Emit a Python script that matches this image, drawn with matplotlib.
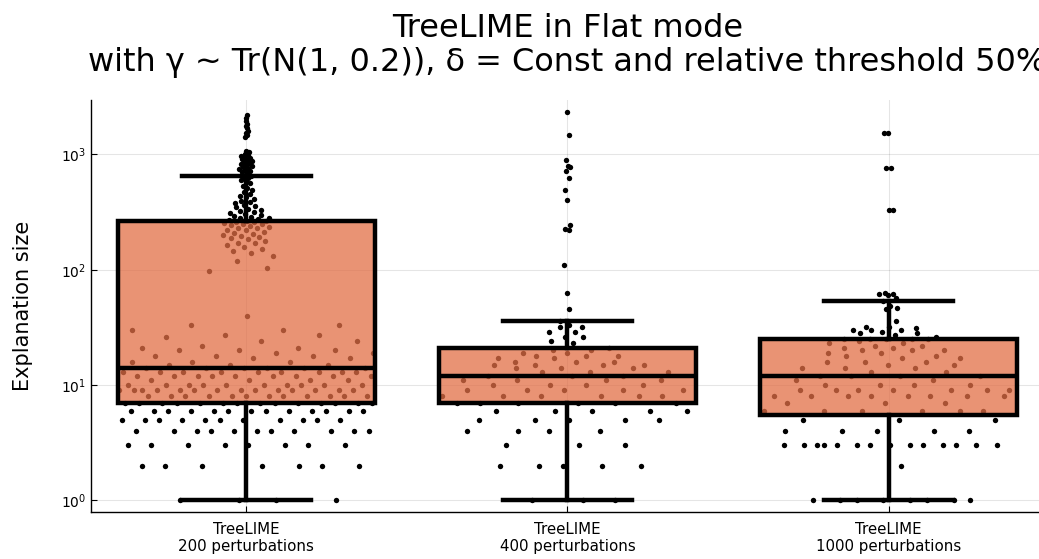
import numpy as np
import matplotlib.pyplot as plt
from matplotlib.ticker import LogLocator, NullLocator

labels = ['TreeLIME\n200 perturbations',
          'TreeLIME\n400 perturbations',
          'TreeLIME\n1000 perturbations']

# explanation sizes: small values as (value, count), larger ones listed one by one
vals_200 = [1, 2, 3, 4, 5, 6, 7, 8, 9, 10, 11, 12, 13, 14,
            15, 16, 17, 18, 19, 20, 21, 22, 24, 26, 27, 30, 33]
cnt_200 = [4, 7, 8, 11, 11, 13, 14, 12, 14, 10, 4, 9, 9, 6,
           3, 3, 2, 3, 2, 3, 2, 1, 2, 1, 2, 2, 2]
tail_200 = [40, 97,
            104, 118, 131, 140, 146, 152, 158, 163, 169, 171, 178, 184, 187, 193, 198,
            201, 206, 210, 214, 219, 223, 228, 231, 236, 240, 244, 247, 251, 254, 257,
            260, 263, 265,
            270, 274, 279, 283, 288, 292, 298, 305, 309, 316, 322, 330, 338, 347, 355,
            362, 376, 388, 395, 410, 428, 437, 452, 471, 489, 512, 530, 561, 585, 598,
            622, 640, 650,
            690, 705, 712, 730, 745, 760, 772, 790, 805, 820, 840, 855, 870, 890, 905,
            925, 940, 960, 985, 1010, 1040, 1080,
            1410, 1460, 1530, 1610, 1680, 1760, 1850, 1950, 2060, 2180]

vals_400 = [1, 2, 3, 4, 5, 6, 7, 8, 9, 10, 11, 12, 13, 14, 15, 16, 17, 18, 19, 20, 21]
cnt_400 = [3, 5, 3, 4, 5, 5, 6, 6, 5, 4, 4, 3, 3, 3, 4, 3, 2, 3, 2, 2, 1]
tail_400 = [23, 24, 26, 26, 29, 29, 32, 32, 33, 36, 46, 63, 110, 220, 225, 245,
            405, 490, 620, 720, 780, 800, 890, 1460, 2350]

vals_1000 = [1, 2, 3, 4, 5, 6, 7, 8, 9, 10, 11, 12, 13, 14, 15, 16, 17, 18, 19,
             20, 21, 22, 23, 24, 25]
cnt_1000 = [8, 1, 14, 5, 3, 6, 3, 8, 7, 4, 2, 4, 2, 3, 2, 3, 2, 2, 2, 3, 2, 2, 2, 1, 5]
tail_1000 = [26, 27, 28, 28, 29, 30, 30, 30, 31, 32, 32, 36, 46, 47, 48, 54,
             57, 60, 61, 62, 63, 330, 330, 760, 760, 1530, 1530]

samples = [np.concatenate([np.repeat(v, c), t]).astype(float)
           for v, c, t in [(vals_200, cnt_200, tail_200),
                           (vals_400, cnt_400, tail_400),
                           (vals_1000, cnt_1000, tail_1000)]]

fig = plt.figure(figsize=(10.39, 5.59), dpi=100)
ax = fig.add_axes([91 / 1039, 47 / 559, 953 / 1039, 412 / 559])
ax.set_yscale('log')

pos = np.arange(1, len(samples) + 1)
golden = (np.sqrt(5) - 1) / 2

# density-scaled horizontal spread of the raw points
for p, s in zip(pos, samples):
    n = len(s)
    q1, q3 = np.percentile(s, [25, 75])
    h = 0.9 * min(s.std(ddof=1), (q3 - q1) / 1.34) * n ** -0.2
    dens = np.exp(-0.5 * ((s[:, None] - s[None, :]) / h) ** 2).sum(axis=1)
    spread = dens / dens.max()
    u = (np.arange(1, n + 1) * golden) % 1 - 0.5
    ax.scatter(p + 0.8 * u * spread, s, s=15, color='black', linewidths=0, zorder=2)

line = dict(color='black', linewidth=3.2)
bp = ax.boxplot(samples, positions=pos, widths=0.8, capwidths=0.4, showfliers=False,
                patch_artist=True, tick_labels=labels, zorder=3,
                boxprops=dict(facecolor=(226 / 255, 111 / 255, 70 / 255, 0.75),
                              edgecolor='black', linewidth=3.2),
                whiskerprops=line, capprops=line, medianprops=line)

allv = np.concatenate(samples)
lo, hi = np.log10(allv.min()), np.log10(allv.max())
pad = 0.03 * (hi - lo)
ax.set_ylim(10 ** (lo - pad), 10 ** (hi + pad))
ax.set_xlim(0.516, 3.484)

ax.yaxis.set_major_locator(LogLocator(base=10, numticks=10))
ax.yaxis.set_minor_locator(NullLocator())
ax.grid(True, color='black', alpha=0.1, linewidth=0.8)
ax.set_axisbelow(True)
for side in ('top', 'right'):
    ax.spines[side].set_visible(False)
for side in ('left', 'bottom'):
    ax.spines[side].set_linewidth(1)
ax.tick_params(direction='in', length=4, width=0.8, labelsize=10)
ax.tick_params(axis='x', labelsize=10.8, pad=7)

ax.set_ylabel('Explanation size', fontsize=15, labelpad=20)
ax.set_title('TreeLIME in Flat mode\n'
             'with γ ~ Tr(N(1, 0.2)), δ = Const and relative threshold 50%',
             fontsize=23, pad=21, linespacing=1.1)

fig.savefig('out.png', dpi=100)
